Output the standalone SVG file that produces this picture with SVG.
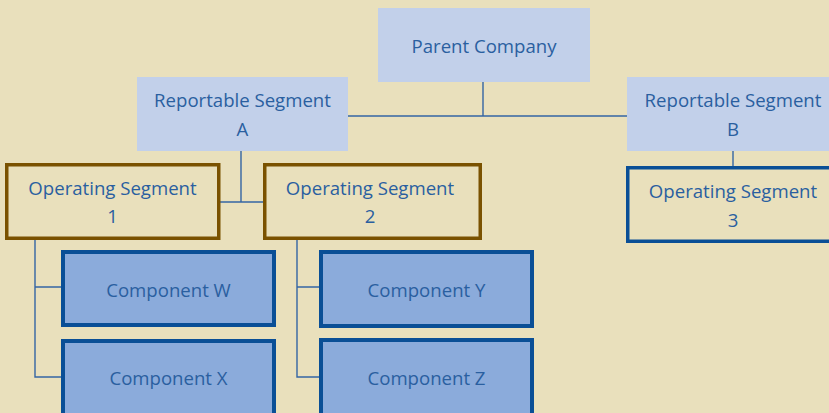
<svg xmlns="http://www.w3.org/2000/svg" width="829" height="413" viewBox="0 0 829 413">
<style>
text{font-family:"Open Sans","Noto Sans","Liberation Sans",sans-serif;font-size:18.6px;fill:#2A5FA0;text-anchor:middle}
.top{fill:#C2D0EA}
.op{fill:none;stroke:#7A5200;stroke-width:3.5}
.op3{fill:none;stroke:#0A4F96;stroke-width:3.5}
.comp{fill:#8BABDB;stroke:#0A4F96;stroke-width:4}
.conn{fill:none;stroke:#3465A4;stroke-width:1.4}
</style>
<rect width="829" height="413" fill="#E9E0BC"/>
<g id="connectors" class="conn">
<path d="M483 82V116M348 116H627"/>
<path d="M241 151V202M219 202H264"/>
<path d="M733 151V166"/>
<path d="M35 240V377H61M35 287H61"/>
<path d="M297 240V377H319M297 287H319"/>
</g>
<g id="parent"><rect class="top" x="378" y="8" width="212" height="74"/><text x="484" y="53">Parent Company</text></g>
<g id="repA"><rect class="top" x="137" y="77" width="211" height="74"/><text x="242.5" y="107">Reportable Segment</text><text x="242.5" y="136">A</text></g>
<g id="repB"><rect class="top" x="627" y="77" width="212" height="74"/><text x="733" y="107">Reportable Segment</text><text x="733" y="136">B</text></g>
<g id="op1"><rect class="op" x="6.75" y="164.75" width="212" height="73.5"/><text x="112.5" y="195">Operating Segment</text><text x="112.5" y="223">1</text></g>
<g id="op2"><rect class="op" x="264.75" y="164.75" width="215.5" height="73.5"/><text x="370" y="195">Operating Segment</text><text x="370" y="223">2</text></g>
<g id="op3"><rect class="op3" x="627.75" y="167.75" width="215" height="73.5"/><text x="733" y="198">Operating Segment</text><text x="733" y="227">3</text></g>
<g id="compW"><rect class="comp" x="63" y="252" width="211" height="73"/><text x="168.5" y="297">Component W</text></g>
<g id="compX"><rect class="comp" x="63" y="341" width="211" height="80"/><text x="168.5" y="385">Component X</text></g>
<g id="compY"><rect class="comp" x="321" y="252" width="211" height="74"/><text x="426.5" y="297">Component Y</text></g>
<g id="compZ"><rect class="comp" x="321" y="340" width="211" height="80"/><text x="426.5" y="385">Component Z</text></g>
</svg>
